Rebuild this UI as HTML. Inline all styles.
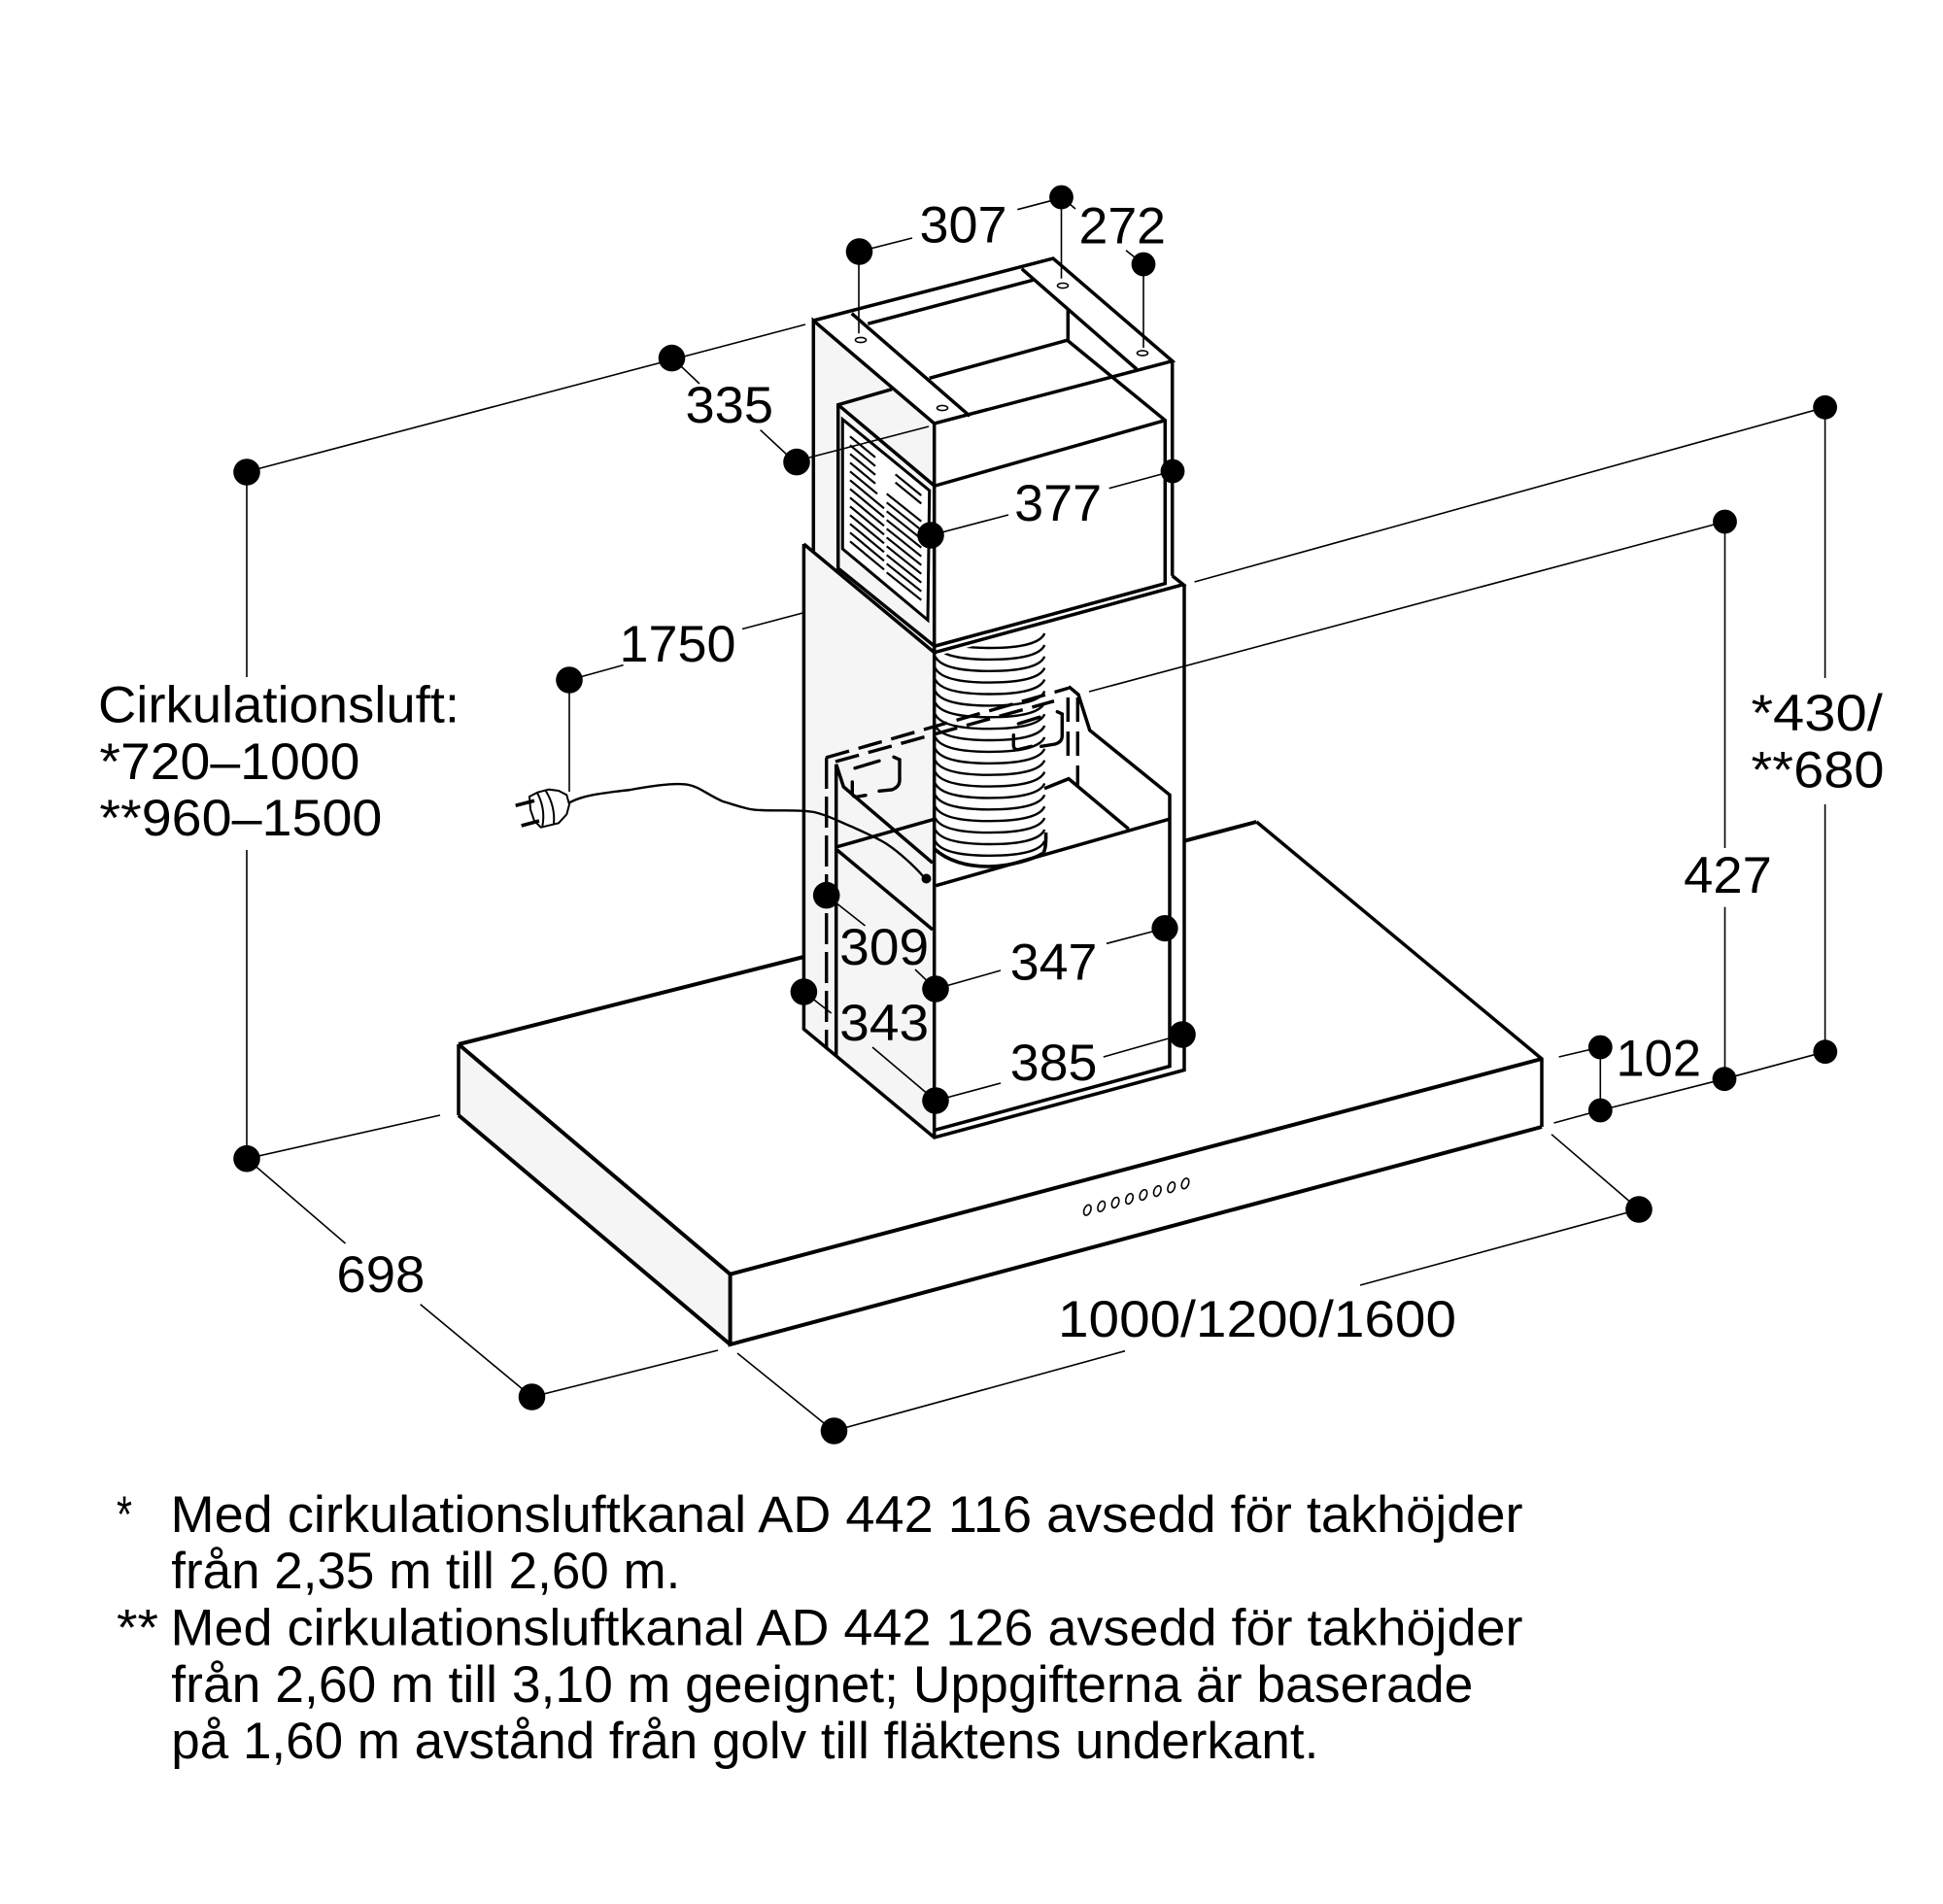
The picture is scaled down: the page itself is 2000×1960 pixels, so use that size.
<!DOCTYPE html>
<html>
<head>
<meta charset="utf-8">
<style>
html,body{margin:0;padding:0;background:#fff}
svg{display:block}
text{font-family:"Liberation Sans",sans-serif;font-size:53px;fill:#000}
.k{fill:none;stroke:#000;stroke-width:3.5;stroke-linejoin:miter;stroke-linecap:butt}
.h{fill:none;stroke:#000;stroke-width:4;stroke-linejoin:miter}
.t{fill:none;stroke:#000;stroke-width:1.6}
.d{fill:none;stroke:#000;stroke-width:3.4;stroke-dasharray:25 10}
</style>
</head>
<body>
<svg xmlns="http://www.w3.org/2000/svg" width="2000" height="1960" viewBox="0 0 2000 1960">
<rect width="2000" height="1960" fill="#fff"/>
<defs><clipPath id="dc"><polygon points="962,676 1077,644 1077,900 962,900"/></clipPath></defs>

<!-- fills -->
<polygon points="472,1075 751.6,1311.7 751.6,1384 472,1148" fill="#f5f5f5"/>
<polygon points="837.3,330 962,436 962,672 827.3,560 837.3,560" fill="#f5f5f5"/>
<polygon points="827.3,560 961.7,671.7 961.7,1171 827.4,1059.3" fill="#f5f5f5"/>
<polygon points="867.3,431.7 956.7,505 955,638.3 867.3,565" fill="#fff"/>

<!-- hood -->
<path class="h" d="M472 1075L827.4 985M1219 865.7L1293.4 846M1587 1160L751.6 1384V1311.7L1587 1090M472 1148L751.6 1384M472 1075L751.6 1311.7"/>
<path class="k" d="M1293.4 846L1587 1090V1160M472 1075V1148"/>
<g fill="none" stroke="#000" stroke-width="1.6">
<ellipse cx="1119.3" cy="1245.7" rx="3.4" ry="5.6" transform="rotate(22 1119.3 1245.7)"/>
<ellipse cx="1133.7" cy="1241.8" rx="3.4" ry="5.6" transform="rotate(22 1133.7 1241.8)"/>
<ellipse cx="1148.1" cy="1237.9" rx="3.4" ry="5.6" transform="rotate(22 1148.1 1237.9)"/>
<ellipse cx="1162.5" cy="1234" rx="3.4" ry="5.6" transform="rotate(22 1162.5 1234)"/>
<ellipse cx="1176.9" cy="1230" rx="3.4" ry="5.6" transform="rotate(22 1176.9 1230)"/>
<ellipse cx="1191.3" cy="1226.1" rx="3.4" ry="5.6" transform="rotate(22 1191.3 1226.1)"/>
<ellipse cx="1205.7" cy="1222.2" rx="3.4" ry="5.6" transform="rotate(22 1205.7 1222.2)"/>
<ellipse cx="1220" cy="1218.3" rx="3.4" ry="5.6" transform="rotate(22 1220 1218.3)"/>
</g>

<!-- duct -->
<g clip-path="url(#dc)" fill="none" stroke="#000" stroke-width="2.4">
<path d="M962.7 652c5 11 27 15 56 15s52-4 56.5-15M962.7 663.9c5 11 27 15 56 15s52-4 56.5-15M962.7 675.8c5 11 27 15 56 15s52-4 56.5-15M962.7 687.6c5 11 27 15 56 15s52-4 56.5-15M962.7 699.5c5 11 27 15 56 15s52-4 56.5-15M962.7 711.4c5 11 27 15 56 15s52-4 56.5-15M962.7 723.3c5 11 27 15 56 15s52-4 56.5-15M962.7 735.2c5 11 27 15 56 15s52-4 56.5-15M962.7 747c5 11 27 15 56 15s52-4 56.5-15M962.7 758.9c5 11 27 15 56 15s52-4 56.5-15M962.7 770.8c5 11 27 15 56 15s52-4 56.5-15M962.7 782.7c5 11 27 15 56 15s52-4 56.5-15M962.7 794.6c5 11 27 15 56 15s52-4 56.5-15M962.7 806.4c5 11 27 15 56 15s52-4 56.5-15M962.7 818.3c5 11 27 15 56 15s52-4 56.5-15M962.7 830.2c5 11 27 15 56 15s52-4 56.5-15M962.7 842.1c5 11 27 15 56 15s52-4 56.5-15M962.7 854c5 11 27 15 56 15s52-4 56.5-15"/>
<path d="M962.7 865.8c5 11 27 15 56 15s52-4 56.5-15"/>
</g>
<path fill="none" stroke="#000" stroke-width="3.6" d="M962 874C975 886 995 892 1017 892C1040 892 1065 884 1074 878Q1077 873 1076.5 857"/>

<!-- top housing -->
<path class="k" d="M837.3 330L1084 266L1206.7 371.7L961.7 436L837.3 330V567M961.7 436V1171M1206.7 371.7V592.7"/>
<path class="k" d="M876.7 322.7L998.3 428.3M1051.7 276.7L1170 380M893.3 333.3L1063.3 288.3M956.7 389.3L1099.3 350V318.3M1098.3 350L1199.3 432.7V600.7L962.7 665M962.7 500L1199.3 432.7"/>
<path class="k" d="M918 400.7L862.7 416.7V585L961.7 665M862.7 416.7L961.7 500"/>
<path d="M867.3 431.7L956.7 505L955 638.3L867.3 565Z" fill="none" stroke="#000" stroke-width="3"/>
<path fill="none" stroke="#000" stroke-width="2.2" d="M875 449.3l26 21.5M875 458.3l26 21.5M875 467.3l26 21.5M875 476.3l26 21.5M875 485.3l28 23M875 494.3l35 29M875 503.3l35 29M875 512.3l35 29M875 521.3l35 29M875 530.3l35 29M875 539.3l35 29M875 548.3l35 29M875 557.3l35 29M921.7 488.3l26.6 21.7M921.7 496.7l26.6 21.7M912.7 508.3l35.6 28.4M912.7 517.3l35.6 28.4M912.7 526.3l35.6 28.4M912.7 535.3l35.6 28.4M912.7 544.3l35.6 28.4M912.7 553.3l35.6 28.4M912.7 562.3l35.6 28.4M912.7 571.3l35.6 28.4M912.7 580.3l35.6 28.4M912.7 589.3l35.6 28.4"/>
<g fill="#fff" stroke="#000" stroke-width="1.6">
<ellipse cx="886" cy="350" rx="5.5" ry="2.6"/>
<ellipse cx="1094" cy="294" rx="5.5" ry="2.6"/>
<ellipse cx="1176" cy="363.5" rx="5.5" ry="2.6"/>
<ellipse cx="970" cy="420" rx="5.5" ry="2.6"/>
</g>

<!-- lower cover -->
<path class="k" d="M827.3 560L961.7 671.7L1218 601.7L1206.7 592.7M961.7 665L961.7 671.7M827.4 560V1059.3L961.7 1171L1219 1101.5V601.7M961.7 1163.4L1204 1097.6V818.3L1121.7 751.7L1110 715L1100 706.7"/>
<path class="k" d="M860.7 786.7V1087M860.7 786.7L868.3 810L960 888.3M861.7 871.7L961.7 843.3M861.7 875L960 957M963.3 911.7L1203.3 843.3M1075 811.7L1100 801.7L1161.7 853.3"/>
<path class="d" d="M850 780L1100 708.3M860 784L1085 721.7M1099.3 718V785M1109.3 718V810"/>
<path class="d" style="stroke-dasharray:32 8" d="M850.7 780V1079"/>
<path fill="none" stroke="#000" stroke-width="3.4" stroke-linecap="round" d="M880 790.7L905 783.3M1048.3 745L1070 738.3M920 779.3L926 782V803Q926 810 918 813L905 814.3M877.3 805V817Q878 821 883 820L891 818.7M1088.3 732.7L1093.3 735V758Q1093 764 1086 766L1071.7 768.3M1043.3 756.7V768Q1044 772 1048 771.7L1061.7 768.3"/>

<!-- cord & plug -->
<path fill="none" stroke="#000" stroke-width="2.4" d="M585.6 826.7C600 818 625 816 649 813C665 810 695 805 709 808C720 810 728 818 744 825C758 829 770 834 783.6 834C800 835 822 833 838 836C855 840 866 847 878 851.5C892 858 904 863 913 869C925 877 942 892 952.7 905"/>
<circle cx="953.5" cy="904.5" r="5"/>
<path fill="#fff" stroke="#000" stroke-width="2" d="M545 820L553.3 815.7L565 812.7L575 814L583.3 818.3L586 828.3L583.3 838.3L575 847.3L556.7 851.7L550 845L546 833.3ZM553.3 816.7Q561.7 833 558.3 850.7M561.7 814Q571.7 830 570 848.3"/>
<path fill="none" stroke="#000" stroke-width="3.6" d="M530.7 829.3L550 824.3M536.7 850L555 845"/>

<!-- dimension lines -->
<path class="t" d="M264 483L829 334M254 486V697M254 875V1192.7M254 1192.7L453 1148M254 1192.7L355.5 1280M432.7 1342.7L547.5 1438L739 1390M759 1393L858 1473L1158 1390.7M1400 1323L1687 1245L1597 1167.7"/>
<path class="t" d="M701 377L720 395M782.6 442.6L811 469M833 471L956 439M884 259L939 245M1047.3 215.7L1081.7 206.7M1092.5 203L1107 215M1159 257.7L1177 272M884 259V343.3M1092.5 203V286.7M1177 272V358"/>
<path class="t" d="M958 551L1038 530M1141.7 502.7L1207 485M586 700L641.6 684.6M764 647.5L826.3 631M586 700V815M1878.6 419.3L1229.6 599M1775.5 537L1121 712M1878.6 419.3V698M1878.6 828V1082.7M1775.5 537V873M1775.5 933.6V1110.7"/>
<path class="t" d="M850.7 921.6L890.5 953M942 998L963 1018M963 1018L1030 999M1139 971.3L1199 955.6M827.4 1021L855.7 1043M898 1078L963 1133M963 1133L1030 1115M1135.8 1088L1217 1065M1604.6 1088L1647.3 1078M1647.3 1078V1143M1599.5 1156L1647.3 1143L1774.9 1110.7L1878.8 1082.7"/>

<!-- dots -->
<g fill="#000">
<circle cx="254" cy="486" r="13.8"/>
<circle cx="254" cy="1192.7" r="13.8"/>
<circle cx="691.5" cy="368.6" r="13.8"/>
<circle cx="820" cy="475.6" r="13.8"/>
<circle cx="884.5" cy="259" r="13.8"/>
<circle cx="1092.5" cy="203" r="12.4"/>
<circle cx="1177" cy="272" r="12.4"/>
<circle cx="958" cy="551" r="13.8"/>
<circle cx="1207" cy="485" r="12.4"/>
<circle cx="586" cy="700" r="13.8"/>
<circle cx="850.7" cy="921.6" r="13.8"/>
<circle cx="827.4" cy="1021" r="13.8"/>
<circle cx="963" cy="1018" r="13.8"/>
<circle cx="963" cy="1133" r="13.8"/>
<circle cx="1199" cy="955.6" r="13.6"/>
<circle cx="1217" cy="1065" r="13.8"/>
<circle cx="547.5" cy="1438" r="13.8"/>
<circle cx="858.5" cy="1473" r="13.8"/>
<circle cx="1687" cy="1245" r="13.8"/>
<circle cx="1647.3" cy="1078" r="12.4"/>
<circle cx="1647.3" cy="1143" r="12.4"/>
<circle cx="1775" cy="1110.7" r="12.4"/>
<circle cx="1878.8" cy="1082.7" r="12.4"/>
<circle cx="1878.6" cy="419.3" r="12.4"/>
<circle cx="1775.5" cy="537" r="12.4"/>
</g>

<!-- labels -->
<text x="946.5" y="249.3" textLength="90" lengthAdjust="spacingAndGlyphs">307</text>
<text x="1110.5" y="250.7" textLength="89.5" lengthAdjust="spacingAndGlyphs">272</text>
<text x="705.5" y="435" textLength="90.5" lengthAdjust="spacingAndGlyphs">335</text>
<text x="1044.2" y="536" textLength="90" lengthAdjust="spacingAndGlyphs">377</text>
<text x="637.5" y="681" textLength="120" lengthAdjust="spacingAndGlyphs">1750</text>
<text x="864.2" y="993" textLength="92" lengthAdjust="spacingAndGlyphs">309</text>
<text x="864.2" y="1070.8" textLength="92" lengthAdjust="spacingAndGlyphs">343</text>
<text x="1039.8" y="1008.4" textLength="89.6" lengthAdjust="spacingAndGlyphs">347</text>
<text x="1039.8" y="1111.8" textLength="89.6" lengthAdjust="spacingAndGlyphs">385</text>
<text x="346.4" y="1330" textLength="91" lengthAdjust="spacingAndGlyphs">698</text>
<text x="1089" y="1376" textLength="410" lengthAdjust="spacingAndGlyphs">1000/1200/1600</text>
<text x="1663.5" y="1107.3" textLength="87.5" lengthAdjust="spacingAndGlyphs">102</text>
<text x="1733.2" y="919" textLength="90.7" lengthAdjust="spacingAndGlyphs">427</text>
<text x="1802.5" y="752" textLength="135.4" lengthAdjust="spacingAndGlyphs">*430/</text>
<text x="1802.5" y="810.4" textLength="137" lengthAdjust="spacingAndGlyphs">**680</text>
<text x="101" y="743.6" textLength="372" lengthAdjust="spacingAndGlyphs">Cirkulationsluft:</text>
<text x="102.4" y="801.8" textLength="268" lengthAdjust="spacingAndGlyphs">*720–1000</text>
<text x="102.4" y="860" textLength="291" lengthAdjust="spacingAndGlyphs">**960–1500</text>

<text x="120" y="1577" textLength="16" lengthAdjust="spacingAndGlyphs">*</text>
<text x="175.5" y="1577" textLength="1392" lengthAdjust="spacingAndGlyphs">Med cirkulationsluftkanal AD 442 116 avsedd för takhöjder</text>
<text x="176.3" y="1635" textLength="524" lengthAdjust="spacingAndGlyphs">från 2,35 m till 2,60 m.</text>
<text x="120" y="1693.7" textLength="43" lengthAdjust="spacingAndGlyphs">**</text>
<text x="175.5" y="1693.7" textLength="1392" lengthAdjust="spacingAndGlyphs">Med cirkulationsluftkanal AD 442 126 avsedd för takhöjder</text>
<text x="176.3" y="1752" textLength="1340" lengthAdjust="spacingAndGlyphs">från 2,60 m till 3,10 m geeignet; Uppgifterna är baserade</text>
<text x="176.3" y="1810" textLength="1181" lengthAdjust="spacingAndGlyphs">på 1,60 m avstånd från golv till fläktens underkant.</text>
</svg>
</body>
</html>
